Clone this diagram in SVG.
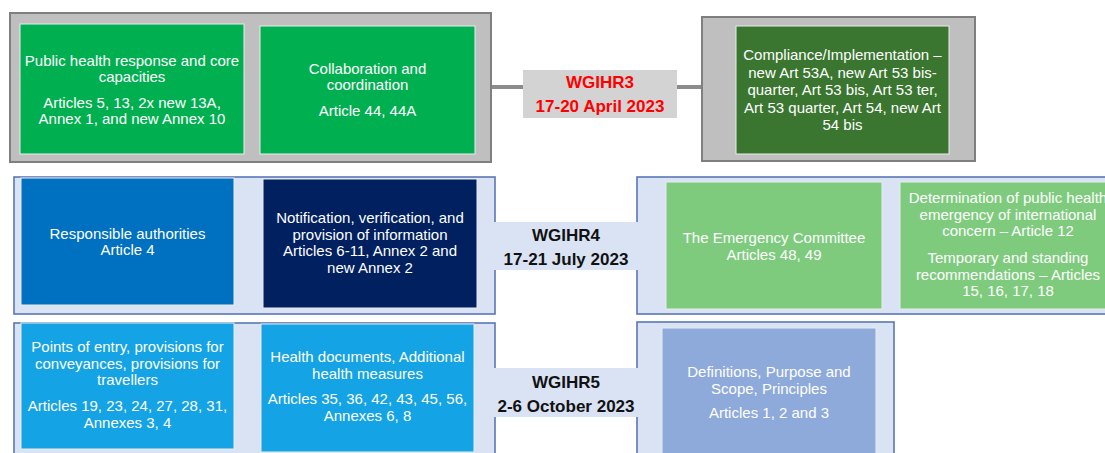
<svg xmlns="http://www.w3.org/2000/svg" width="1105" height="453" viewBox="0 0 1105 453">
<style>
.t{font-family:"Liberation Sans",Arial,sans-serif;font-size:15px;fill:#ffffff;text-anchor:middle}
.lb{font-family:"Liberation Sans",Arial,sans-serif;font-size:17px;font-weight:bold;text-anchor:middle}
.grayOuter{fill:#bfbfbf;stroke:#7f7f7f;stroke-width:2}
.blueOuter{fill:#dae3f3;stroke:#5b76b5;stroke-width:1.6}
.inner{stroke:#e8ecef;stroke-width:1}
.conn{stroke:#8c8c8c;stroke-width:4;fill:none}
</style>
<rect width="1105" height="453" fill="#ffffff"/>

<g id="connectors">
<line class="conn" x1="491" y1="87" x2="524" y2="87"/>
<line class="conn" x1="676" y1="87" x2="703" y2="87"/>
</g>

<g id="group-wgihr3-left">
<rect class="grayOuter" x="10" y="13" width="481" height="149"/>
</g>
<g id="node-public-health">
<rect class="inner" x="20" y="24" width="224" height="130" fill="#00b050"/>
<text class="t" x="132" y="66">Public health response and core</text>
<text class="t" x="132" y="81.5">capacities</text>
<text class="t" x="132" y="108">Articles 5, 13, 2x new 13A,</text>
<text class="t" x="132" y="123.5">Annex 1, and new Annex 10</text>
</g>
<g id="node-collaboration">
<rect class="inner" x="260" y="26" width="215" height="128" fill="#00b050"/>
<text class="t" x="367.5" y="74">Collaboration and</text>
<text class="t" x="367.5" y="89.5">coordination</text>
<text class="t" x="367.5" y="116">Article 44, 44A</text>
</g>
<g id="label-wgihr3">
<rect x="523" y="70" width="154" height="48" fill="#d3d3d3"/>
<text class="lb" x="600" y="88" fill="#ff0000">WGIHR3</text>
<text class="lb" x="600" y="112" fill="#ff0000">17-20 April 2023</text>
</g>
<g id="group-wgihr3-right">
<rect class="grayOuter" x="702" y="17" width="273" height="144"/>
</g>
<g id="node-compliance">
<rect class="inner" x="736" y="26" width="213" height="128" fill="#3a762f"/>
<text class="t" x="842.5" y="60">Compliance/Implementation –</text>
<text class="t" x="842.5" y="77.5">new Art 53A, new Art 53 bis-</text>
<text class="t" x="842.5" y="95">quarter, Art 53 bis, Art 53 ter,</text>
<text class="t" x="842.5" y="112.5">Art 53 quarter, Art 54, new Art</text>
<text class="t" x="842.5" y="130">54 bis</text>
</g>

<g id="group-wgihr4-left">
<rect class="blueOuter" x="14" y="177" width="481" height="137"/>
</g>
<g id="node-responsible">
<rect class="inner" x="21" y="178" width="213" height="127" fill="#0070c0"/>
<text class="t" x="127.5" y="238.5">Responsible authorities</text>
<text class="t" x="127.5" y="255">Article 4</text>
</g>
<g id="node-notification">
<rect class="inner" x="263" y="179" width="214" height="129" fill="#002060"/>
<text class="t" x="370" y="223">Notification, verification, and</text>
<text class="t" x="370" y="239.5">provision of information</text>
<text class="t" x="370" y="256">Articles 6-11, Annex 2 and</text>
<text class="t" x="370" y="272.5">new Annex 2</text>
</g>
<g id="group-wgihr4-right">
<rect class="blueOuter" x="637" y="177" width="480" height="137"/>
</g>
<g id="label-wgihr4">
<rect x="494" y="222" width="144" height="48" fill="#dae3f3"/>
<text class="lb" x="566" y="241" fill="#111111">WGIHR4</text>
<text class="lb" x="566" y="265" fill="#111111">17-21 July 2023</text>
</g>
<g id="node-emergency">
<rect class="inner" x="666" y="182" width="216" height="127" fill="#7ecb7e"/>
<text class="t" x="774" y="243">The Emergency Committee</text>
<text class="t" x="774" y="259.5">Articles 48, 49</text>
</g>
<g id="node-determination">
<rect class="inner" x="900" y="182" width="216" height="127" fill="#7ecb7e"/>
<text class="t" x="1008" y="203">Determination of public health</text>
<text class="t" x="1008" y="219.5">emergency of international</text>
<text class="t" x="1008" y="236">concern – Article 12</text>
<text class="t" x="1008" y="263">Temporary and standing</text>
<text class="t" x="1008" y="279.5">recommendations – Articles</text>
<text class="t" x="1008" y="296">15, 16, 17, 18</text>
</g>

<g id="group-wgihr5-left">
<rect class="blueOuter" x="14" y="323" width="481" height="140"/>
</g>
<g id="node-points-of-entry">
<rect class="inner" x="21" y="323" width="213" height="126" fill="#14a3e4"/>
<text class="t" x="127.5" y="352">Points of entry, provisions for</text>
<text class="t" x="127.5" y="368.5">conveyances, provisions for</text>
<text class="t" x="127.5" y="385">travellers</text>
<text class="t" x="127.5" y="411">Articles 19, 23, 24, 27, 28, 31,</text>
<text class="t" x="127.5" y="427.5">Annexes 3, 4</text>
</g>
<g id="node-health-documents">
<rect class="inner" x="261" y="324" width="213" height="128" fill="#14a3e4"/>
<text class="t" x="367.5" y="362">Health documents, Additional</text>
<text class="t" x="367.5" y="378.5">health measures</text>
<text class="t" x="367.5" y="404">Articles 35, 36, 42, 43, 45, 56,</text>
<text class="t" x="367.5" y="420.5">Annexes 6, 8</text>
</g>
<g id="group-wgihr5-right">
<rect class="blueOuter" x="637" y="322" width="257" height="141"/>
</g>
<g id="label-wgihr5">
<rect x="494" y="368" width="144" height="49" fill="#dae3f3"/>
<text class="lb" x="566" y="388" fill="#111111">WGIHR5</text>
<text class="lb" x="566" y="412" fill="#111111">2-6 October 2023</text>
</g>
<g id="node-definitions">
<rect class="inner" x="662" y="328" width="214" height="135" fill="#8eaadb"/>
<text class="t" x="769" y="377">Definitions, Purpose and</text>
<text class="t" x="769" y="393.5">Scope, Principles</text>
<text class="t" x="769" y="418">Articles 1, 2 and 3</text>
</g>
</svg>
